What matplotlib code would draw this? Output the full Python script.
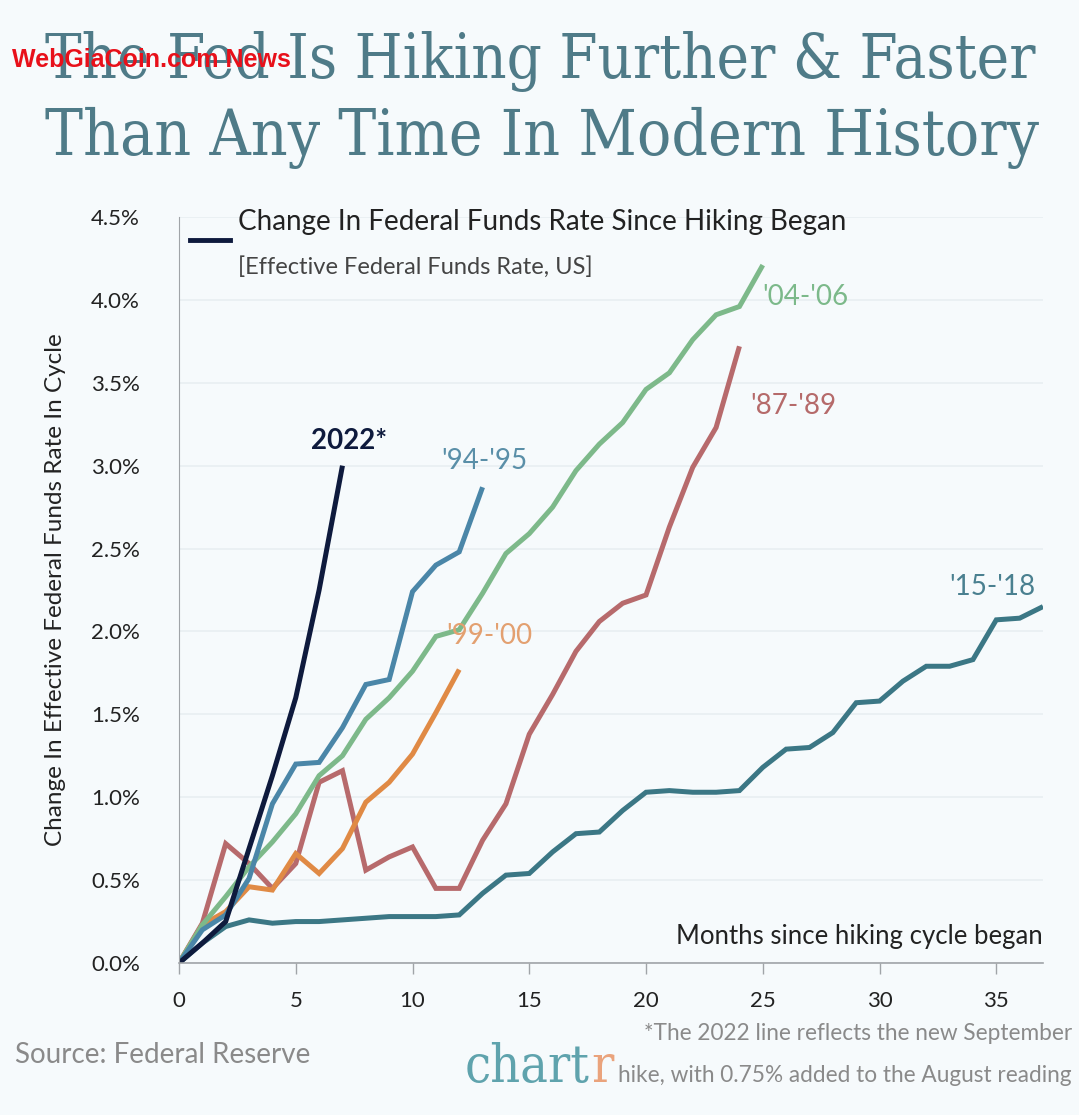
import matplotlib.pyplot as plt
import numpy as np

# change in effective fed funds rate (%), by month since the first hike
c2022 = [0, 0.12, 0.25, 0.69, 1.13, 1.60, 2.25, 3.00]
c9495 = [0, 0.20, 0.29, 0.51, 0.96, 1.20, 1.21, 1.42, 1.68, 1.71, 2.24, 2.40, 2.48, 2.87]
c0406 = [0, 0.23, 0.40, 0.58, 0.73, 0.90, 1.13, 1.25, 1.47, 1.60, 1.76, 1.97, 2.01,
         2.23, 2.47, 2.59, 2.75, 2.97, 3.13, 3.26, 3.46, 3.56, 3.76, 3.91, 3.96, 4.21]
c8789 = [0, 0.24, 0.72, 0.60, 0.45, 0.60, 1.09, 1.16, 0.56, 0.64, 0.70, 0.45, 0.45,
         0.74, 0.96, 1.38, 1.62, 1.88, 2.06, 2.17, 2.22, 2.63, 2.99, 3.23, 3.72]
c9900 = [0, 0.23, 0.31, 0.46, 0.44, 0.66, 0.54, 0.69, 0.97, 1.09, 1.26, 1.51, 1.77]
c1518 = [0, 0.12, 0.22, 0.26, 0.24, 0.25, 0.25, 0.26, 0.27, 0.28, 0.28, 0.28, 0.29,
         0.42, 0.53, 0.54, 0.67, 0.78, 0.79, 0.92, 1.03, 1.04, 1.03, 1.03, 1.04, 1.18,
         1.29, 1.30, 1.39, 1.57, 1.58, 1.70, 1.79, 1.79, 1.83, 2.07, 2.08, 2.15]

yticks = [0, 0.5, 1.0, 1.5, 2.0, 2.5, 3.0, 3.5, 4.0, 4.5]
xticks = [0, 5, 10, 15, 20, 25, 30, 35]

bg = '#f6fafc'
plt.rcParams['font.family'] = ['Lato', 'DejaVu Sans']
W, H = 1079, 1115

fig = plt.figure(figsize=(10.79, 11.15), dpi=100, facecolor=bg)
ax = fig.add_axes([179 / W, 1 - 963 / H, 864 / W, 746 / H], facecolor=bg)
renderer = fig.canvas.get_renderer()


def fit(t, width_px):
    # shrink/grow a text until it is width_px wide
    for _ in range(3):
        w = t.get_window_extent(renderer).width
        t.set_fontsize(t.get_fontsize() * width_px / w)
    return t


# (series, color, label text, label pos, label color, bold)
series = [
    (c1518, '#3b7785', "'15-'18", (34.83, 2.27), '#4a8090', False),
    (c8789, '#b76a6c', "'87-'89", (26.3, 3.36), '#b56a6a', False),
    (c9900, '#e08a45', "'99-'00", (13.3, 1.97), '#e3a070', False),
    (c0406, '#7db98a', "'04-'06", (26.82, 4.02), '#7cb98a', False),
    (c9495, '#4a86a8', "'94-'95", (13.07, 3.03), '#5a8fa8', False),
    (c2022, '#0e1a3d', "2022*", (7.28, 3.15), '#0e1a3d', True),
]
for vals, col, lab, pos, lcol, bold in series:
    ax.plot(np.arange(len(vals)), vals, color=col, lw=3.6, solid_joinstyle='miter',
            solid_capstyle='butt')
    ax.text(pos[0], pos[1], lab, color=lcol, fontsize=20, ha='center', va='center',
            fontweight='bold' if bold else 'normal')

ax.set_xlim(0, 37)
ax.set_ylim(0, 4.5)
ax.set_xticks(xticks)
ax.set_xticklabels([str(t) for t in xticks])
ax.set_yticks(yticks)
ax.set_yticklabels(['%.1f%%' % t for t in yticks])
ax.grid(axis='y', color='#e8eef2', lw=1.2)
ax.set_axisbelow(True)
for s in ['top', 'right']:
    ax.spines[s].set_visible(False)
ax.spines['left'].set_color('#a0a4a8')
ax.spines['bottom'].set_color('#a0a4a8')
ax.spines['bottom'].set_linewidth(1.2)
ax.tick_params(axis='x', length=8, width=1, color='#a0a4a8', labelsize=16,
               labelcolor='#222222', pad=12)
ax.tick_params(axis='y', length=0, labelsize=16, labelcolor='#222222', pad=28)
ax.set_ylabel('Change In Effective Federal Funds Rate In Cycle', fontsize=17.5,
              color='#222222', labelpad=18)

ax.text(1.0, 0.035, 'Months since hiking cycle began', transform=ax.transAxes,
        ha='right', va='center', fontsize=18.5, color='#222222')

# legend-like header
fig.lines.append(plt.Line2D([190 / W, 230 / W], [1 - 240 / H, 1 - 240 / H],
                            color='#0e1a3d', lw=3.5, transform=fig.transFigure))
fig.text(238 / W, 1 - 222 / H, 'Change In Federal Funds Rate Since Hiking Began',
         fontsize=20, color='#222222', va='center', ha='left')
fig.text(238 / W, 1 - 267 / H, '[Effective Federal Funds Rate, US]',
         fontsize=17, color='#444444', va='center', ha='left')

# title
tf = dict(family=['DejaVu Serif'], fontstretch='condensed', color='#4f7b88',
          va='center', fontsize=40)
t1 = fig.text(540 / W, 1 - 62 / H, 'The Fed Is Hiking Further & Faster', ha='center', **tf)
t2 = fig.text(542 / W, 1 - 138 / H, 'Than Any Time In Modern History', ha='center', **tf)
fit(t1, 990)
fit(t2, 995)
fig.text(12 / W, 1 - 60 / H, 'WebGiaCoin.com News', fontsize=18, color='#e8101a',
         ha='left', va='center', fontweight='bold',
         family=['Liberation Sans Narrow', 'Liberation Sans', 'DejaVu Sans'])

# footer
fig.text(15 / W, 1 - 1055 / H, 'Source: Federal Reserve', fontsize=20,
         color='#8a8a8a', ha='left', va='center')
fig.text(1072 / W, 1 - 1033 / H, '*The 2022 line reflects the new September',
         fontsize=16.3, color='#8a8a8a', ha='right', va='center')
fig.text(1072 / W, 1 - 1076 / H, 'hike, with 0.75% added to the August reading',
         fontsize=16.3, color='#8a8a8a', ha='right', va='center')
logo = fig.text(465 / W, 1 - 1082 / H, 'chart', fontsize=36, color='#5fa3ad',
                ha='left', va='baseline', family=['DejaVu Serif'], fontstretch='condensed')
fit(logo, 125)
fig.text(591 / W, 1 - 1082 / H, 'r', fontsize=logo.get_fontsize(), color='#eaa37c',
         ha='left', va='baseline', family=['DejaVu Serif'], fontstretch='condensed')

fig.savefig('out.png', dpi=100, facecolor=bg)
